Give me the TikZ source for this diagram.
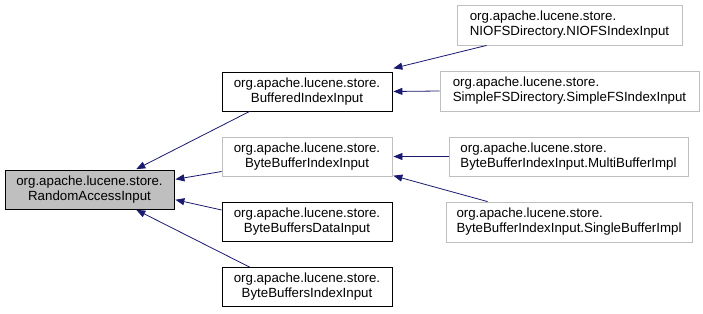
\documentclass[tikz,border=0pt]{standalone}
\usepackage{fontspec}
\setmainfont{Liberation Sans}
\usetikzlibrary{arrows.meta}
\definecolor{edgeblue}{HTML}{191970}
\definecolor{lightedge}{HTML}{BFBFBF}
\definecolor{rootfill}{HTML}{BFBFBF}
\tikzset{
  cls/.style={draw=black, line width=0.8pt, fill=white, inner sep=0pt, font=\fontsize{13.3}{15}\selectfont},
  ext/.style={cls, draw=lightedge},
  root/.style={cls, fill=rootfill},
  inh/.style={draw=edgeblue, line width=0.8pt, -{Triangle[length=9pt,width=7pt]}, shorten >=1pt},
}
\begin{document}
\begin{tikzpicture}[x=1pt, y=-1pt]
\useasboundingbox (0,0) rectangle (703,313);
% class boxes
\node[root, minimum width=169pt, minimum height=39pt, align=center] (rai) at (89.5,189.5) {org.apache.lucene.store.\\RandomAccessInput};
\node[cls, minimum width=170pt, minimum height=39pt, align=center] (bii) at (307,91.5) {org.apache.lucene.store.\\BufferedIndexInput};
\node[ext, minimum width=170pt, minimum height=39pt, align=center] (bbii) at (307,156.5) {org.apache.lucene.store.\\ByteBufferIndexInput};
\node[cls, minimum width=170pt, minimum height=39pt, align=center] (bbdi) at (307,222) {org.apache.lucene.store.\\ByteBuffersDataInput};
\node[cls, minimum width=170pt, minimum height=39pt, align=center] (bbsi) at (307,287) {org.apache.lucene.store.\\ByteBuffersIndexInput};
\node[ext, minimum width=225pt, minimum height=40pt, align=left] (nio) at (569.5,25) {org.apache.lucene.store.\\NIOFSDirectory.NIOFSIndexInput};
\node[ext, minimum width=259pt, minimum height=40pt, align=left] (sfs) at (569.5,91) {org.apache.lucene.store.\\SimpleFSDirectory.SimpleFSIndexInput};
\node[ext, minimum width=239pt, minimum height=39pt, align=left] (mbi) at (568.5,156.5) {org.apache.lucene.store.\\ByteBufferIndexInput.MultiBufferImpl};
\node[ext, minimum width=246pt, minimum height=40pt, align=left] (sbi) at (569,222) {org.apache.lucene.store.\\ByteBufferIndexInput.SingleBufferImpl};
% inheritance edges (child -> parent)
\draw[inh] ([xshift=28pt]bii.south west) -- ([xshift=-39pt]rai.north east);
\draw[inh] ([yshift=-15pt]bbii.west) -- ([yshift=10pt]rai.east);
\draw[inh] ([yshift=12pt]bbdi.west) -- ([yshift=-10pt]rai.east);
\draw[inh] ([xshift=28pt]bbsi.north west) -- ([xshift=-39pt]rai.south east);
\draw[inh] ([xshift=30pt]nio.south west) -- ([yshift=3pt]bii.north east);
\draw[inh] (sfs.west) -- (bii.east);
\draw[inh] (mbi.west) -- (bbii.east);
\draw[inh] ([xshift=42pt]sbi.north west) -- ([yshift=1pt]bbii.south east);
\end{tikzpicture}
\end{document}
